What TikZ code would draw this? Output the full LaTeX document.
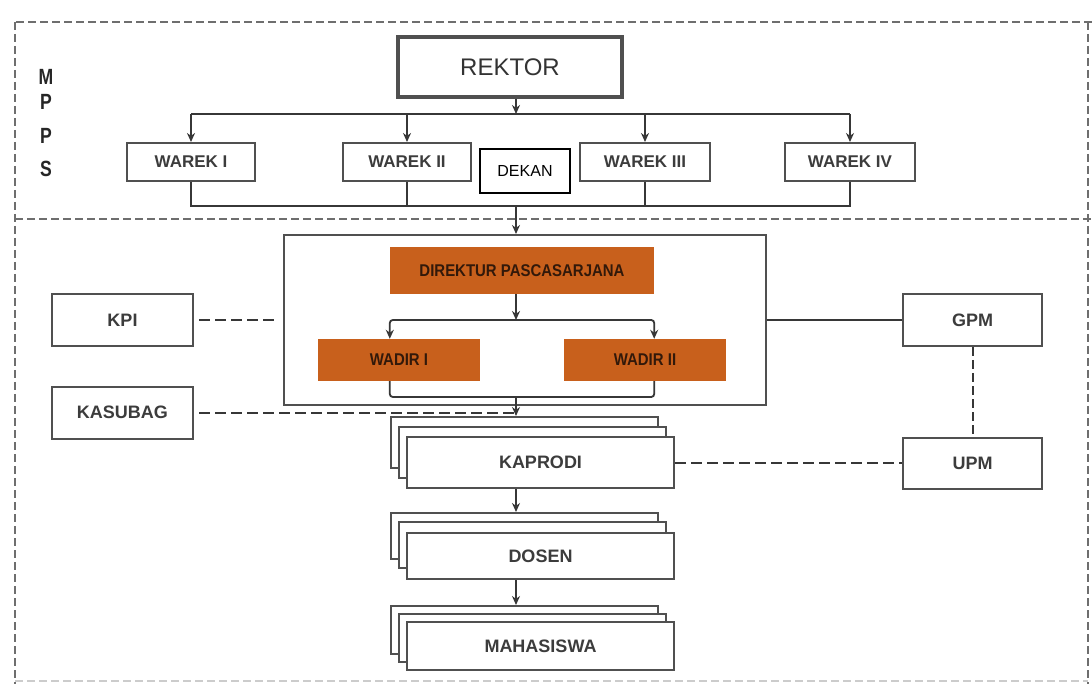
\documentclass[tikz,border=0pt]{standalone}
\usepackage{fontspec}
\setmainfont{Liberation Sans}
\newfontfamily\condfont[FakeStretch=0.88]{Liberation Sans}
\newfontfamily\mppsfont[FakeStretch=0.8]{Liberation Sans}
\usetikzlibrary{arrows.meta,calc}
\definecolor{bordergray}{RGB}{80,80,80}
\definecolor{linegray}{RGB}{55,55,55}
\definecolor{dashgray}{RGB}{110,110,110}
\definecolor{textgray}{RGB}{60,60,60}
\definecolor{orng}{RGB}{200,96,28}
\definecolor{orngtext}{RGB}{50,25,10}
\tikzset{
  box/.style={draw=bordergray, line width=2pt, fill=white, inner sep=0pt,
    font=\fontsize{18}{20}\selectfont\bfseries, text=textgray},
  obox/.style={fill=orng, draw=none, inner sep=0pt,
    font=\condfont\fontsize{17}{19}\selectfont\bfseries, text=orngtext},
  conn/.style={draw=linegray, line width=1.8pt},
  arr/.style={conn, -{Stealth[length=9pt,width=8pt]}},
  dline/.style={draw=linegray, line width=2pt, dash pattern=on 11pt off 5pt},
  frame/.style={draw=dashgray, line width=2.2pt, dash pattern=on 8pt off 4pt},
  mpps/.style={font=\mppsfont\fontsize{22}{24}\selectfont\bfseries, text=black!85, inner sep=0pt}
}
\begin{document}
\begin{tikzpicture}[x=1pt,y=-1pt]
\useasboundingbox (0,0) rectangle (1092,684);
% frame
\draw[frame] (16,22) -- (1092,22);
\draw[frame] (15,22) -- (15,684);
\draw[frame] (1088,22) -- (1088,684);
\draw[frame] (15,219) -- (1092,219);
\draw[frame, draw=dashgray!35] (15,681) -- (1088,681);
% MPPS
\node[mpps] (m1) at (46,77) {M};
\node[mpps] (m2) at (46,102) {P};
\node[mpps] (m3) at (46,136) {P};
\node[mpps] (m4) at (46,169) {S};
% top level
\node[box, line width=3.5pt, minimum width=224pt, minimum height=60pt,
  font=\fontsize{24}{26}\selectfont, text=black!80] (rektor) at (510,67) {REKTOR};
\node[box, minimum width=128pt, minimum height=38pt, font=\fontsize{17}{19}\selectfont\bfseries] (w1) at (191,162) {WAREK I};
\node[box, minimum width=128pt, minimum height=38pt, font=\fontsize{17}{19}\selectfont\bfseries] (w2) at (407,162) {WAREK II};
\node[box, minimum width=130pt, minimum height=38pt, font=\fontsize{17}{19}\selectfont\bfseries] (w3) at (645,162) {WAREK III};
\node[box, minimum width=130pt, minimum height=38pt, font=\fontsize{17}{19}\selectfont\bfseries] (w4) at (850,162) {WAREK IV};
\node[box, draw=black, line width=1.6pt, minimum width=90pt, minimum height=44pt,
  font=\fontsize{16}{18}\selectfont, text=black] (dekan) at (525,171) {DEKAN};
\coordinate (bus1) at (516,114);
\coordinate (bus2) at (516,206);
\draw[arr] (rektor.south -| bus1) -- (bus1);
\draw[conn] (w1.north |- bus1) -- (w4.north |- bus1);
\draw[arr] (w1.north |- bus1) -- (w1.north);
\draw[arr] (w2.north |- bus1) -- (w2.north);
\draw[arr] (w3.north |- bus1) -- (w3.north);
\draw[arr] (w4.north |- bus1) -- (w4.north);
\draw[conn] (w1.south) -- (w1.south |- bus2) -- (w4.south |- bus2) -- (w4.south);
\draw[conn] (w2.south) -- (w2.south |- bus2);
\draw[conn] (w3.south) -- (w3.south |- bus2);
% pascasarjana block
\node[draw=bordergray, line width=2pt, fill=white, minimum width=482pt, minimum height=170pt, inner sep=0pt] (outer) at (525,320) {};
\draw[arr] (bus2) -- (bus2 |- outer.north);
\node[obox, minimum width=264pt, minimum height=47pt] (dir) at (522,270.5) {DIREKTUR PASCASARJANA};
\node[obox, minimum width=162pt, minimum height=42pt] (wadir1) at (399,360) {WADIR I};
\node[obox, minimum width=162pt, minimum height=42pt] (wadir2) at (645,360) {WADIR II};
\coordinate (bus3) at (516,320);
\coordinate (bus4) at (516,397);
\draw[arr] (bus3 |- dir.south) -- (bus3);
\draw[arr, rounded corners=3pt] (bus3) -| (dir.west |- wadir1.north);
\draw[arr, rounded corners=3pt] (bus3) -| (dir.east |- wadir2.north);
\draw[conn, rounded corners=3pt] (dir.west |- wadir1.south) |- (bus4) -| (dir.east |- wadir2.south);
% side boxes
\node[box, minimum width=141pt, minimum height=52pt] (kpi) at (122.5,320) {KPI};
\node[box, minimum width=141pt, minimum height=52pt] (kasubag) at (122.5,412.5) {KASUBAG};
\node[box, minimum width=139pt, minimum height=52pt] (gpm) at (972.5,320) {GPM};
\node[box, minimum width=139pt, minimum height=51pt] (upm) at (972.5,463) {UPM};
% stacks
\node[box, minimum width=267pt, minimum height=51pt] (kapb1) at (524.5,442.5) {};
\node[box, minimum width=267pt, minimum height=51pt] (kapb2) at (532.5,452.5) {};
\node[box, minimum width=267pt, minimum height=51pt] (kap) at (540.5,462.5) {KAPRODI};
\node[box, minimum width=267pt, minimum height=46pt] (dosb1) at (524.5,536) {};
\node[box, minimum width=267pt, minimum height=46pt] (dosb2) at (532.5,545) {};
\node[box, minimum width=267pt, minimum height=46pt] (dos) at (540.5,556) {DOSEN};
\node[box, minimum width=267pt, minimum height=48pt] (mhsb1) at (524.5,630) {};
\node[box, minimum width=267pt, minimum height=48pt] (mhsb2) at (532.5,638) {};
\node[box, minimum width=267pt, minimum height=48pt] (mhs) at (540.5,646) {MAHASISWA};
\draw[arr] (bus4) -- (bus4 |- kapb1.north);
\draw[arr] (bus4 |- kap.south) -- (bus4 |- dosb1.north);
\draw[arr] (bus4 |- dos.south) -- (bus4 |- mhsb1.north);
% links
\draw[dline, shorten <=5pt, shorten >=5pt] (kpi.east) -- (kpi.east -| outer.west);
\draw[dline, shorten <=5pt] (kasubag.east) -- (kasubag.east -| bus4);
\draw[conn] (outer.east |- gpm.west) -- (gpm.west);
\draw[dline, dash pattern=on 9pt off 4pt] (gpm.south) -- (upm.north);
\draw[dline] (kap.east) -- (kap.east -| upm.west);
\end{tikzpicture}
\end{document}
